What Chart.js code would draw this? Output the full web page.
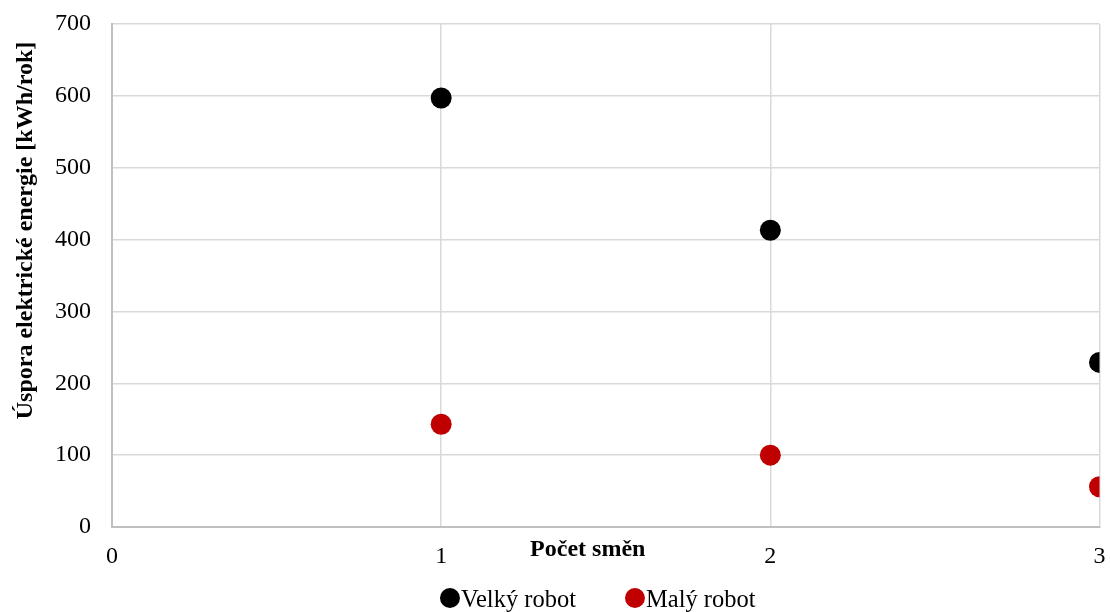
<!DOCTYPE html>
<html>
<head>
<meta charset="utf-8">
<script src="https://cdn.jsdelivr.net/npm/chart.js@4/dist/chart.umd.min.js"></script>
<style>
  html, body { margin: 0; padding: 0; background: #ffffff; }
  #wrap { width: 1110px; height: 612px; position: relative; }
</style>
</head>
<body>
<div id="wrap"><canvas id="chart"></canvas></div>
<script>
// Number of shifts (x) and yearly electricity savings (y)
const shifts = [1, 2, 3];
const velkyRobot = [597, 413, 229];
const malyRobot = [143, 100, 56];
const seriesNames = ['Velký robot', 'Malý robot'];
const seriesColors = ['#000000', '#c00000'];
const xTickValues = [0, 1, 2, 3];
const yTickValues = [0, 100, 200, 300, 400, 500, 600, 700];
const xTitle = 'Počet směn';
const yTitle = 'Úspora elektrické energie [kWh/rok]';

const FONT = '"Liberation Serif", "Times New Roman", serif';

function toPoints(xs, ys) {
  return xs.map((x, i) => ({ x: x, y: ys[i] }));
}

// Axis titles drawn at fixed offsets from the plot area
const axisTitles = {
  id: 'axisTitles',
  afterDraw(chart) {
    const { ctx, chartArea: a } = chart;
    ctx.save();
    ctx.fillStyle = '#000000';
    ctx.font = 'bold 24px ' + FONT;
    ctx.textAlign = 'center';
    ctx.textBaseline = 'alphabetic';
    ctx.fillText(xTitle, (a.left + a.right) / 2 - 18, a.bottom + 29);
    ctx.translate(32, (a.top + a.bottom) / 2 - 45);
    ctx.rotate(-Math.PI / 2);
    ctx.fillText(yTitle, 0, 0);
    ctx.restore();
  }
};

// Legend row below the axis: round marker followed by the series name
const bottomLegend = {
  id: 'bottomLegend',
  afterDraw(chart) {
    const { ctx, chartArea: a } = chart;
    ctx.save();
    ctx.font = '24.5px ' + FONT;
    ctx.textBaseline = 'alphabetic';
    ctx.textAlign = 'left';
    const r = 10, gap = 1, itemGap = 49;
    const items = chart.data.datasets.map(ds => ({
      text: ds.label,
      color: ds.backgroundColor,
      w: 2 * r + gap + ctx.measureText(ds.label).width
    }));
    const total = items.reduce((s, it) => s + it.w, 0) + itemGap * (items.length - 1);
    let x = (a.left + a.right) / 2 - 8 - total / 2;
    const cy = chart.height - 14;
    items.forEach(it => {
      ctx.fillStyle = it.color;
      ctx.beginPath();
      ctx.arc(x + r, cy, r, 0, Math.PI * 2);
      ctx.fill();
      ctx.fillStyle = '#000000';
      ctx.fillText(it.text, x + 2 * r + gap, cy + 9);
      x += it.w + itemGap;
    });
    ctx.restore();
  }
};

new Chart(document.getElementById('chart'), {
  type: 'scatter',
  data: {
    datasets: [
      {
        label: seriesNames[0],
        data: toPoints(shifts, velkyRobot),
        backgroundColor: seriesColors[0],
        borderColor: seriesColors[0],
        pointRadius: 10.5,
        pointHoverRadius: 10.5,
        borderWidth: 0,
        clip: 0
      },
      {
        label: seriesNames[1],
        data: toPoints(shifts, malyRobot),
        backgroundColor: seriesColors[1],
        borderColor: seriesColors[1],
        pointRadius: 10.5,
        pointHoverRadius: 10.5,
        borderWidth: 0,
        clip: 0
      }
    ]
  },
  options: {
    responsive: true,
    maintainAspectRatio: false,
    animation: false,
    events: [],
    layout: { padding: { top: 24, right: 0, bottom: 0, left: 0 } },
    plugins: {
      legend: { display: false },
      tooltip: { enabled: false },
      title: { display: false }
    },
    scales: {
      x: {
        type: 'linear',
        min: 0,
        max: 3,
        afterBuildTicks(scale) { scale.ticks = xTickValues.map(v => ({ value: v })); },
        afterFit(scale) {
          scale.height = 85;
          scale.paddingLeft = 0;
          scale.paddingRight = 0;
        },
        grid: { color: '#d9d9d9', lineWidth: 1.5, drawTicks: false },
        border: { color: '#bfbfbf', width: 2 },
        ticks: {
          color: '#000000',
          font: { family: FONT, size: 24 },
          padding: 15,
          maxRotation: 0,
          autoSkip: false
        }
      },
      y: {
        type: 'linear',
        min: 0,
        max: 700,
        afterBuildTicks(scale) { scale.ticks = yTickValues.map(v => ({ value: v })); },
        afterFit(scale) {
          scale.width = 112;
          scale.paddingTop = 0;
          scale.paddingBottom = 0;
        },
        grid: { color: '#d9d9d9', lineWidth: 1.5, drawTicks: false },
        border: { color: '#bfbfbf', width: 2 },
        ticks: {
          color: '#000000',
          font: { family: FONT, size: 24 },
          padding: 21
        }
      }
    }
  },
  plugins: [axisTitles, bottomLegend]
});
</script>
</body>
</html>
